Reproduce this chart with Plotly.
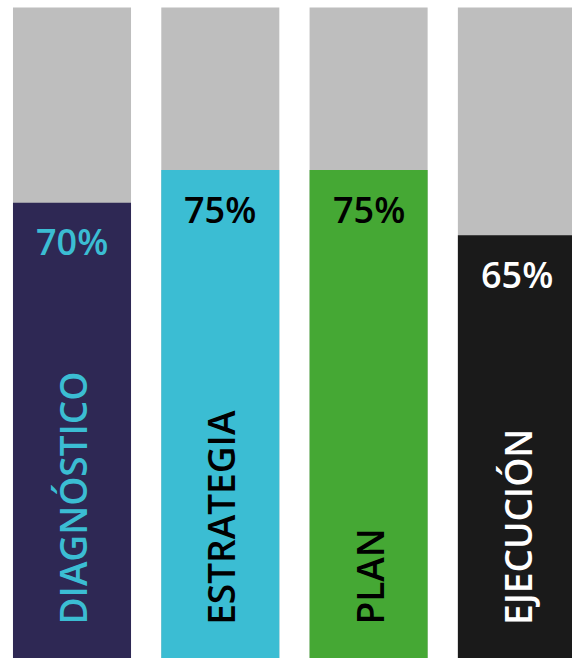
import plotly.graph_objects as go

# Stage names, completion percentages and styling per stage
stages = ["DIAGNÓSTICO", "ESTRATEGIA", "PLAN", "EJECUCIÓN"]
values = [70, 75, 75, 65]
full_scale = [100, 100, 100, 100]
bar_colors = ["#2e2854", "#3bbdd3", "#45a834", "#1a1a1a"]
text_colors = ["#3bbdd3", "#000000", "#000000", "#ffffff"]

FONT = "Open Sans"
W, H = 572, 658

fig = go.Figure()

# Grey track showing the full 100%
fig.add_trace(go.Bar(
    x=stages, y=full_scale, width=0.796,
    marker=dict(color="#bebebe", line=dict(width=0)),
    hoverinfo="skip", showlegend=False,
))

# Coloured fill showing progress of each stage
fig.add_trace(go.Bar(
    x=stages, y=values, width=0.796,
    marker=dict(color=bar_colors, line=dict(width=0)),
    showlegend=False,
))

annotations = []
for i, (name, v) in enumerate(zip(stages, values)):
    # percentage label just under the top of the fill
    annotations.append(dict(
        x=name, y=v, xref="x", yref="y",
        text=f"{v}%", showarrow=False,
        yanchor="middle", yshift=-39,
        font=dict(family=FONT, size=36, color=text_colors[i], weight=600),
    ))
    # vertical stage name at the bottom of the bar
    annotations.append(dict(
        x=name, y=31 / H, xref="x", yref="paper",
        text=name, showarrow=False, textangle=-90,
        xanchor="center", yanchor="bottom",
        font=dict(family=FONT, size=37, color=text_colors[i], weight=600),
    ))

fig.update_layout(
    width=W, height=H,
    margin=dict(l=0, r=0, t=0, b=0),
    paper_bgcolor="#ffffff", plot_bgcolor="#ffffff",
    barmode="overlay",
    xaxis=dict(range=[-0.4855, 3.3715], visible=False, fixedrange=True),
    yaxis=dict(range=[0, 101.15], visible=False, fixedrange=True),
    annotations=annotations,
)

fig.write_html("out.html")
